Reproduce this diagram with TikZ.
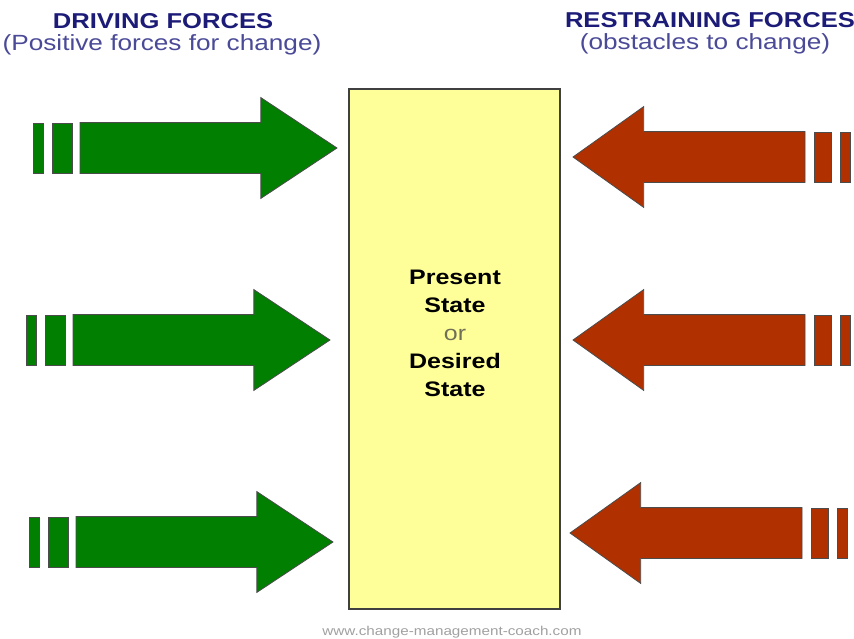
\documentclass[tikz,border=0pt]{standalone}
\usepackage{fontspec}
\setmainfont{Liberation Sans}[FakeStretch=1.19]
\usepackage{tikz}
\usetikzlibrary{shapes.arrows}
\usetikzlibrary{positioning}
\definecolor{TitleBlue}{HTML}{1C1C78}
\definecolor{SubBlue}{HTML}{4A4A98}
\definecolor{DriveGreen}{HTML}{007F00}
\definecolor{RestrainRed}{HTML}{B03000}
\definecolor{BoxYellow}{HTML}{FFFF99}
\definecolor{OrGrey}{HTML}{707058}
\definecolor{SourceGrey}{HTML}{A0A0A0}
\tikzstyle{ForceArrow}=[single arrow, draw=black!70, line width=0.8pt, inner xsep=0pt, inner ysep=25pt, outer sep=0pt, minimum width=100pt, single arrow head extend=25pt, anchor=tip]
\tikzstyle{DrivingArrow}=[ForceArrow, fill=DriveGreen, minimum height=257pt, single arrow tip angle=67]
\tikzstyle{RestrainArrow}=[ForceArrow, fill=RestrainRed, minimum height=232pt, single arrow tip angle=71, shape border rotate=180]
\tikzstyle{ForceBar}=[rectangle, draw=black!70, line width=0.8pt, inner sep=0pt, outer sep=0pt, minimum height=50pt]
\tikzstyle{DrivingBar}=[ForceBar, fill=DriveGreen]
\tikzstyle{RestrainBar}=[ForceBar, fill=RestrainRed]
\tikzstyle{TitleText}=[anchor=base, inner sep=0pt, text=TitleBlue, font=\fontsize{21.5}{26}\selectfont\bfseries]
\tikzstyle{SubText}=[anchor=base, inner sep=0pt, text=SubBlue, font=\fontsize{22}{26}\selectfont]
\tikzstyle{StateBox}=[rectangle, draw=black!75, line width=1.5pt, fill=BoxYellow, minimum width=211pt, minimum height=520pt]

\begin{document}
\begin{tikzpicture}[x=1pt, y=-1pt]
\useasboundingbox (0,0) rectangle (854,638);

\node[TitleText](DRVTITLE) at (163,28) {DRIVING FORCES};
\node[SubText](DRVSUB) at (162,50) {(Positive forces for change)};
\node[TitleText](RSTTITLE) at (710,27) {RESTRAINING FORCES};
\node[SubText](RSTSUB) at (705,49) {(obstacles to change)};

\node[StateBox](STATE) at (454.5,349) {};
\node[align=center, font=\fontsize{21}{28}\selectfont](STATELBL) at (455,333)
  {\textbf{Present}\\\textbf{State}\\\textcolor{OrGrey}{or}\\\textbf{Desired}\\\textbf{State}};

% driving forces
\node[DrivingArrow](DF1) at (337,148) {};
\node[DrivingArrow](DF2) at (330,340) {};
\node[DrivingArrow](DF3) at (333,542) {};
\node[DrivingBar, minimum width=19.5pt, left=8pt of DF1.tail](DF1W) {};
\node[DrivingBar, minimum width=10pt, left=9pt of DF1W](DF1N) {};
\node[DrivingBar, minimum width=19.5pt, left=8pt of DF2.tail](DF2W) {};
\node[DrivingBar, minimum width=10pt, left=9pt of DF2W](DF2N) {};
\node[DrivingBar, minimum width=19.5pt, left=8pt of DF3.tail](DF3W) {};
\node[DrivingBar, minimum width=10pt, left=9pt of DF3W](DF3N) {};

% restraining forces
\node[RestrainArrow](RF1) at (573,157) {};
\node[RestrainArrow](RF2) at (573,340) {};
\node[RestrainArrow](RF3) at (570,533) {};
\node[RestrainBar, minimum width=17pt, right=9pt of RF1.tail](RF1W) {};
\node[RestrainBar, minimum width=10pt, right=9pt of RF1W](RF1N) {};
\node[RestrainBar, minimum width=17pt, right=9pt of RF2.tail](RF2W) {};
\node[RestrainBar, minimum width=10pt, right=9pt of RF2W](RF2N) {};
\node[RestrainBar, minimum width=17pt, right=9pt of RF3.tail](RF3W) {};
\node[RestrainBar, minimum width=10pt, right=9pt of RF3W](RF3N) {};

\node[anchor=base, inner sep=0pt, text=SourceGrey, font=\fontsize{12.8}{15}\selectfont](SOURCE) at (452,635) {www.change-management-coach.com};
\end{tikzpicture}
\end{document}
